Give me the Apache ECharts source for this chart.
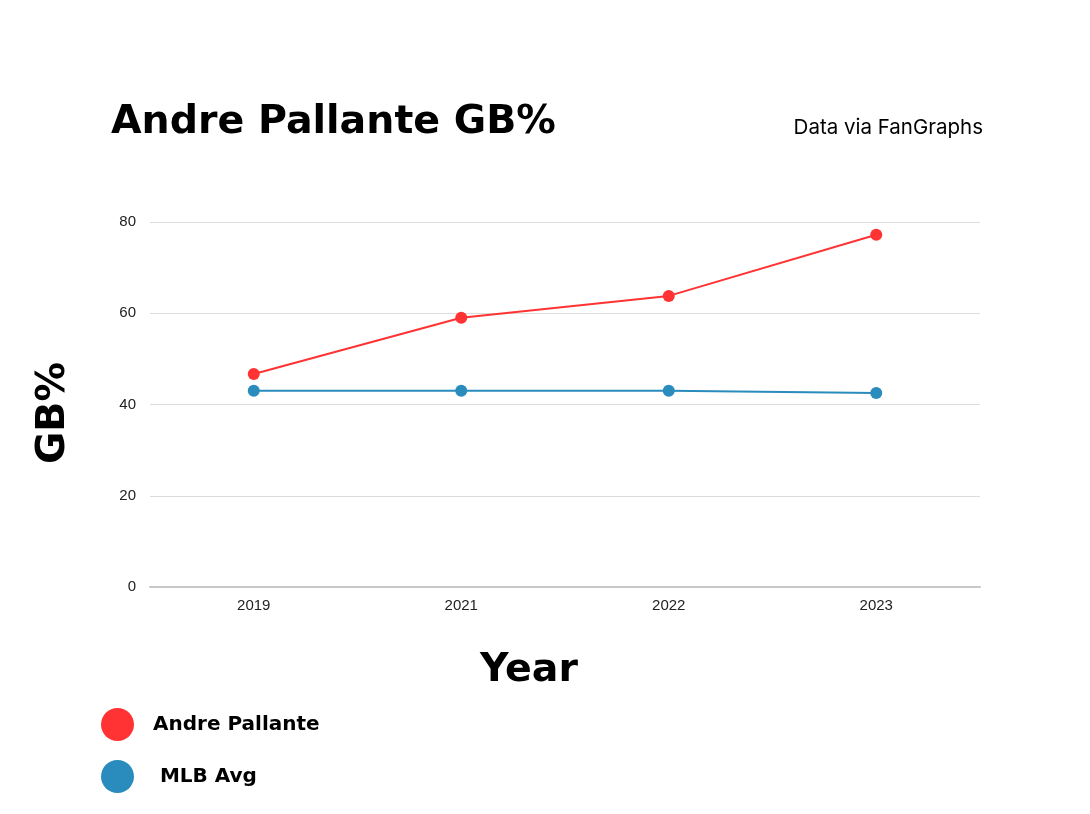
<!DOCTYPE html>
<html>
<head>
<meta charset="utf-8">
<script src="https://cdn.jsdelivr.net/npm/echarts@6/dist/echarts.min.js"></script>
<style>
html, body { margin: 0; padding: 0; background: #fff; }
#mainCanvas { width: 1090px; height: 814px; }
</style>
</head>
<body>
<div id="mainCanvas"></div>
<script>
var years = ["2019", "2021", "2022", "2023"];
var pallante = [46.7, 59.0, 63.8, 77.2];
var mlbAvg = [43.0, 43.0, 43.0, 42.5];
var yTicks = [0, 20, 40, 60, 80];

var boldFont = 'DejaVu Sans';

var myChart = echarts.init(document.getElementById("mainCanvas"));
var option = {
    backgroundColor: '#fff',
    title: [
        {
            text: 'Andre Pallante GB%',
            left: 106, top: 98,
            textStyle: { fontFamily: boldFont, fontWeight: 'bold', fontSize: 39.5, color: '#000' }
        },
        {
            text: 'Data via FanGraphs',
            right: 102, top: 112,
            textStyle: { fontFamily: 'Inter', fontWeight: 'normal', fontSize: 20.5, color: '#000' }
        },
        {
            text: 'Year',
            left: 475, top: 646,
            textStyle: { fontFamily: boldFont, fontWeight: 'bold', fontSize: 39.5, color: '#000' }
        }
    ],
    graphic: [
        {
            type: 'text',
            x: 54, y: 413,
            rotation: Math.PI / 2,
            style: {
                text: 'GB%',
                fontFamily: boldFont, fontWeight: 'bold', fontSize: 39.5, fill: '#000',
                align: 'center', verticalAlign: 'middle'
            }
        }
    ],
    legend: {
        orient: 'vertical',
        left: 96, top: 703,
        itemWidth: 33, itemHeight: 33,
        itemGap: 19,
        icon: 'circle',
        textStyle: { fontFamily: boldFont, fontWeight: 'bold', fontSize: 20, color: '#000', padding: [0, 0, 0, 14] },
        data: ['Andre Pallante', ' MLB Avg']
    },
    grid: { left: 150, right: 110, top: 222, bottom: 227 },
    xAxis: {
        type: 'category',
        data: years,
        axisLine: { lineStyle: { color: '#c8c8c8', width: 2 } },
        axisTick: { show: false },
        axisLabel: { fontFamily: 'Liberation Sans', fontSize: 15, color: '#222', margin: 11 }
    },
    yAxis: {
        type: 'value',
        min: yTicks[0], max: yTicks[yTicks.length - 1], interval: 20,
        axisLine: { show: false },
        axisTick: { show: false },
        splitLine: { lineStyle: { color: '#dcdcdc', width: 1 } },
        axisLabel: { fontFamily: 'Liberation Sans', fontSize: 15, color: '#222', margin: 14 }
    },
    series: [
        {
            name: 'Andre Pallante',
            type: 'line',
            data: pallante,
            symbol: 'circle', symbolSize: 12,
            itemStyle: { color: '#ff3333' },
            lineStyle: { color: '#ff3333', width: 2 }
        },
        {
            name: ' MLB Avg',
            type: 'line',
            data: mlbAvg,
            symbol: 'circle', symbolSize: 12,
            itemStyle: { color: '#2a8bbd' },
            lineStyle: { color: '#2a8bbd', width: 2 }
        }
    ]
};
myChart.setOption(option);
</script>
</body>
</html>
